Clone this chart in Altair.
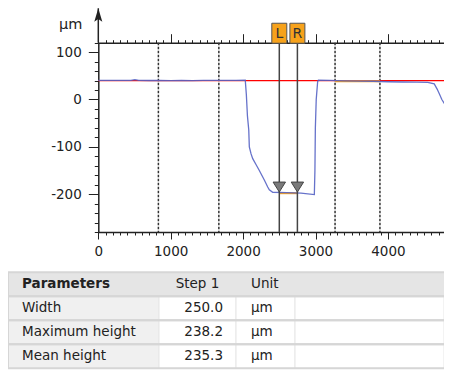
import altair as alt
import pandas as pd

# ---------------- data ----------------
prof_x = [0, 150, 300, 450, 505, 560, 700, 850, 1000, 1150, 1300, 1450, 1600, 1750, 1900, 2030,
          2045, 2060, 2078, 2086, 2110, 2133, 2180, 2224, 2293, 2340, 2362, 2409, 2600, 2800, 2984,
          2992, 2998, 3010, 3030, 3040, 3200, 3400, 3600, 3800, 3900, 4000, 4200, 4400, 4550, 4640,
          4680, 4710, 4745, 4779, 4826, 4871, 4900]
prof_y = [40.5, 40.2, 40.6, 40.3, 41.8, 40.4, 40.1, 40.5, 40.0, 40.4, 39.8, 40.3, 40.6, 40.2, 40.5, 40.8,
          10, -35, -64, -100, -115, -125, -138, -150, -170, -185, -191, -196, -197, -198, -201,
          -150, -60, 0, 38, 41, 40.5, 39.5, 39, 38.5, 38, 37.5, 37, 36.5, 36, 33,
          22, 12, 0, -8.5, -22.6, -36.8, -45]

ref_level = [40]                  # red reference line
dash_x = [830, 1665, 3270, 3890]  # dashed region limits
cursor_x = [2500, 2750]
cursor_lab = ["L", "R"]
cursor_y = [-185, -185]
seg_x1 = [2500, 3270]
seg_x2 = [2750, 3890]
seg_y = [-198, 38.5]
x_tick_labels = [0, 1000, 2000, 3000, 4000]
y_tick_labels = [-200, -100, 0, 100]

tbl_header = ["Parameters", "Step 1", "Unit"]
param_names = ["Width", "Maximum height", "Mean height"]
step1_vals = [250.0, 238.2, 235.3]
unit_vals = ["µm", "µm", "µm"]

# ---------------- layout / style ----------------
FONT = "DejaVu Sans"
INK = "#222222"
W, H = 436, 363
PL, PT, PB = 90.3, 34.7, 224.0           # plot frame (left, top, bottom) in px
X = alt.Scale(domain=[0, 5000], range=[PL, PL + 362])
Y = alt.Scale(domain=[-280, 120], range=[PB, PT])
Y_TOP, Y_BOT = 120, -280
Y_BOX = 140      # level of the L/R flags above the frame
Y_ARROW = 192.7  # arrow tip of the y axis

prof_df = pd.DataFrame({"x": prof_x, "y": prof_y})
dummy = pd.DataFrame({"x": [0], "y": [0]})
cur_df = pd.DataFrame({"x": cursor_x, "lab": cursor_lab, "y": cursor_y})
seg_df = pd.DataFrame({"x": seg_x1, "x2": seg_x2, "y": seg_y})


def xq(axis=None):
    return alt.X("x:Q", scale=X, axis=axis)


def yq(axis=None):
    return alt.Y("y:Q", scale=Y, axis=axis)


def full_height():
    return dict(y=alt.YDatum(Y_TOP, scale=Y, axis=None), y2=alt.Y2Datum(Y_BOT))


main_line = alt.Chart(prof_df).mark_line(color="#5563c4", strokeWidth=1.3, opacity=0.9).encode(
    x=xq(alt.Axis(orient="bottom", offset=-(H - PB), values=x_tick_labels, tickSize=7,
                  labelPadding=5, labelFlush=False, grid=False, title=None, format="d",
                  domainWidth=1.5)),
    y=yq(alt.Axis(orient="left", offset=-PL, values=y_tick_labels, tickSize=10, labelPadding=7,
                  labelFlush=False, grid=False, labelExpr="'' + datum.value",
                  title="µm", titleAngle=0, titleAlign="right",
                  titleBaseline="alphabetic", titleX=-16.5, titleY=PT - 14.5, titleFontSize=14.5,
                  titleFontWeight="normal", domainWidth=1.5)),
)
minor_axes = alt.Chart(dummy).mark_point(opacity=0).encode(
    x=xq(alt.Axis(orient="bottom", offset=-(H - PB), values=list(range(0, 5001, 100)), tickSize=3,
                  labels=False, domain=False, grid=False, title=None)),
    y=yq(alt.Axis(orient="left", offset=-PL, values=list(range(-280, 121, 20)), tickSize=4,
                  labels=False, domain=False, grid=False, title=None)),
)
top_minor = alt.Chart(dummy).mark_point(opacity=0).encode(
    x=xq(alt.Axis(orient="top", offset=-PT, values=list(range(0, 5001, 100)), tickSize=3,
                  labels=False, domain=True, domainWidth=1.5, grid=False, title=None)),
    y=yq(None),
)
top_major = alt.Chart(dummy).mark_point(opacity=0).encode(
    x=xq(alt.Axis(orient="top", offset=-PT, values=list(range(0, 5001, 1000)), tickSize=9,
                  labels=False, domain=False, grid=False, title=None)),
    y=yq(None),
)

dashes = alt.Chart(pd.DataFrame({"x": dash_x})).mark_rule(
    color="#333333", strokeDash=[2.5, 1.5], strokeWidth=1.5).encode(x=xq(None), **full_height())

red = alt.Chart(pd.DataFrame({"y": ref_level, "x": [0], "x2": [5000]})).mark_rule(
    color="#ff0000", strokeWidth=1.2).encode(x=xq(None), x2="x2:Q", y=yq(None))

segs = alt.Chart(seg_df).mark_rule(color="#f5a01f", strokeWidth=2).encode(
    x=xq(None), x2="x2:Q", y=yq(None))

cur_rules = alt.Chart(cur_df).mark_rule(color="#444444", strokeWidth=1.5).encode(
    x=xq(None), **full_height())

TRI = "M-1,-0.8 L1,-0.8 L0,0.8 Z"
tris = alt.Chart(cur_df).mark_point(shape=TRI, size=154, filled=True, fill="#7a7a7a",
                                    stroke="#444444", strokeWidth=1, opacity=1).encode(
    x=xq(None), y=yq(None))

BOX = "M-0.75,-1 L0.75,-1 L0.75,1 L-0.75,1 Z"
boxes = alt.Chart(cur_df).mark_point(shape=BOX, size=400, filled=True, fill="#f7a21b",
                                     stroke="#555555", strokeWidth=1, opacity=1).encode(
    x=xq(None), y=alt.YDatum(Y_BOX, scale=Y, axis=None))
box_txt = alt.Chart(cur_df).mark_text(font=FONT, fontSize=14, color="#333333",
                                      baseline="middle", align="center", dy=1).encode(
    x=xq(None), y=alt.YDatum(Y_BOX, scale=Y, axis=None), text="lab:N")

arrow_line = alt.Chart(dummy).mark_rule(color=INK, strokeWidth=1.5).encode(
    x=alt.XDatum(0, scale=X, axis=None), y=alt.YDatum(Y_TOP, scale=Y, axis=None),
    y2=alt.Y2Datum(Y_ARROW))
ARROW = "M0,0 L0.6,2 L0,1.6 L-0.6,2 Z"
arrow_head = alt.Chart(dummy).mark_point(shape=ARROW, size=180, filled=True, fill=INK,
                                         opacity=1, strokeWidth=0).encode(
    x=alt.XDatum(0, scale=X, axis=None), y=alt.YDatum(Y_ARROW, scale=Y, axis=None))

plot_layers = [dashes, red, segs, main_line, cur_rules, tris, boxes, box_txt,
               minor_axes, top_minor, top_major, arrow_line, arrow_head]

# ---------------- table ----------------
COL = [0, 151, 228, 287, W]
T_TOP, T_BOT = 264.3, 360.3
row_order = [tbl_header[0]] + param_names
TY = alt.Scale(domain=row_order, range=[T_TOP, T_BOT], paddingInner=0, paddingOuter=0)


def ycell(bp=None):
    if bp is None:
        return alt.Y("r:N", scale=TY, axis=None)
    return alt.Y("r:N", scale=TY, axis=None, bandPosition=bp)


all_rows = pd.DataFrame({"r": row_order})
hdr_df = pd.DataFrame({"r": [row_order[0]], "h0": [tbl_header[0]], "h1": [tbl_header[1]],
                       "h2": [tbl_header[2]]})
data_df = pd.DataFrame({"r": param_names, "name": param_names, "val": step1_vals, "unit": unit_vals})

t_layers = [alt.Chart(hdr_df).mark_rect(fill="#e5e5e5").encode(
    x=alt.value(0), x2=alt.value(W), y=ycell())]
for i, fill in enumerate(["#f0f0f0", "#ffffff", "#ffffff", "#ffffff"]):
    t_layers.append(alt.Chart(data_df).mark_rect(fill=fill, stroke="#e6e6e6", strokeWidth=1).encode(
        x=alt.value(COL[i]), x2=alt.value(COL[i + 1]), y=ycell()))
t_layers.append(alt.Chart(all_rows).mark_rule(color="#d6d6d6", strokeWidth=2).encode(
    x=alt.value(0), x2=alt.value(W), y=ycell(0)))
t_layers.append(alt.Chart(all_rows).mark_rule(color="#d6d6d6", strokeWidth=2).encode(
    x=alt.value(0), x2=alt.value(W), y=ycell(1)))
t_layers.append(alt.Chart(dummy).mark_rule(color="#d6d6d6", strokeWidth=1).encode(
    x=alt.value(0.5), y=alt.value(T_TOP), y2=alt.value(T_BOT)))

txt = dict(font=FONT, fontSize=13.5, color=INK, baseline="middle")
t_layers += [
    alt.Chart(hdr_df).mark_text(align="left", fontWeight="bold", **txt).encode(
        x=alt.value(14), y=ycell(), text="h0:N"),
    alt.Chart(hdr_df).mark_text(align="center", **txt).encode(
        x=alt.value(189.5), y=ycell(), text="h1:N"),
    alt.Chart(hdr_df).mark_text(align="left", **txt).encode(
        x=alt.value(243), y=ycell(), text="h2:N"),
    alt.Chart(data_df).mark_text(align="left", **txt).encode(
        x=alt.value(14), y=ycell(), text="name:N"),
    alt.Chart(data_df).mark_text(align="right", **txt).encode(
        x=alt.value(215), y=ycell(), text=alt.Text("val:Q", format=".1f")),
    alt.Chart(data_df).mark_text(align="left", **txt).encode(
        x=alt.value(243), y=ycell(), text="unit:N"),
]

chart = alt.layer(*plot_layers, *t_layers).resolve_scale(
    y="independent"
).resolve_axis(
    x="independent", y="independent"
).properties(
    width=W, height=H,
    autosize=alt.AutoSizeParams(type="none"),
    padding={"left": 0, "top": 0, "right": 0, "bottom": 0},
).configure_view(stroke=None).configure_axis(
    labelFont=FONT, titleFont=FONT, labelFontSize=13.5, labelColor=INK, titleColor=INK,
    domainColor=INK, tickColor=INK, tickWidth=1,
)

chart.save("out.html", embed_options={"renderer": "svg", "actions": False})
